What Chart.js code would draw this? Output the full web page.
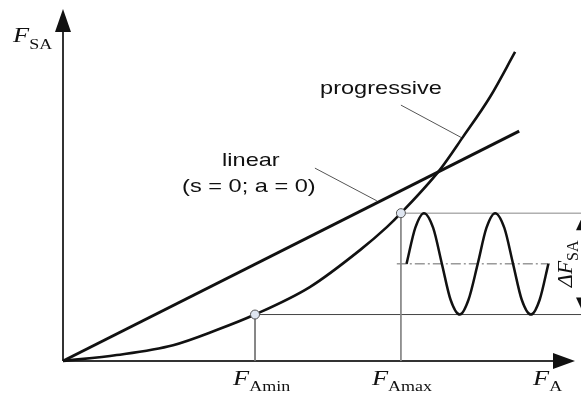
<!DOCTYPE html>
<html>
<head>
<meta charset="utf-8">
<script src="https://cdn.jsdelivr.net/npm/chart.js@4/dist/chart.umd.min.js"></script>
<style>
  html, body { margin: 0; padding: 0; background: #fff; }
  canvas { display: block; }
</style>
</head>
<body>
<canvas id="chart" width="581" height="394"></canvas>
<script>
// Spring characteristics: axial force F_A against spring force F_SA (arbitrary units)
const linearX = [0, 8.91];
const linearY = [0, 6.53];

const progressiveX = [0, 1.05, 2.15, 3.00, 3.75, 4.82, 5.80, 6.33, 6.60, 7.36, 7.81, 8.34, 8.83];
const progressiveY = [0, 0.17, 0.45, 0.88, 1.32, 2.10, 3.15, 3.81, 4.20, 5.43, 6.36, 7.50, 8.78];

// Alternating load between F_SA at F_Amin and at F_Amax (two cycles)
const loadX = [6.71, 6.88, 7.05, 7.23, 7.40, 7.57, 7.75, 7.92, 8.10, 8.27, 8.44, 8.62, 8.79, 8.96, 9.14, 9.31, 9.48];
const loadY = [2.76, 3.78, 4.20, 3.78, 2.76, 1.74, 1.32, 1.74, 2.76, 3.78, 4.20, 3.78, 2.76, 1.74, 1.32, 1.74, 2.76];

// Operating range
const fAmin = 3.75;
const fAmax = 6.60;
const fSAmin = 1.32;
const fSAmax = 4.20;
const fSAmean = 2.76;
const meanLineX = [6.52, 9.51];
const guideRightX = 10.12;

// Leader lines for the curve names
const linearLeaderX = [4.92, 6.13];
const linearLeaderY = [5.48, 4.55];
const progLeaderX = [6.60, 7.79];
const progLeaderY = [7.27, 6.34];

const pts = (xs, ys) => xs.map((x, i) => ({ x, y: ys[i] }));

// order: higher values are painted first (underneath)
function line(data, color, width, order, extra) {
  return Object.assign({
    type: 'line', data, borderColor: color, borderWidth: width, order,
    pointRadius: 0, fill: false, tension: 0, clip: false
  }, extra || {});
}

const SANS = '"Liberation Sans", Arial, sans-serif';
const SERIF = '"Liberation Serif", "Times New Roman", serif';

// Draws a run of text pieces (main + subscript) horizontally widened by sx
function drawRun(ctx, parts, x, y, sx, align) {
  ctx.save();
  let total = 0;
  parts.forEach(p => { ctx.font = p.font; p.w = ctx.measureText(p.t).width; total += p.w; });
  let start = x;
  if (align === 'center') start = x - total * sx / 2;
  ctx.translate(start, y);
  ctx.scale(sx, 1);
  ctx.fillStyle = '#111';
  ctx.textBaseline = 'alphabetic';
  ctx.textAlign = 'left';
  let cx = 0;
  parts.forEach(p => { ctx.font = p.font; ctx.fillText(p.t, cx, p.dy || 0); cx += p.w; });
  ctx.restore();
}

const diagramPlugin = {
  id: 'diagram',
  beforeDatasetsDraw(chart) {
    const { ctx, chartArea: a } = chart;
    ctx.save();
    ctx.strokeStyle = '#333';
    ctx.fillStyle = '#111';
    ctx.lineWidth = 2;
    // x axis with arrow
    ctx.beginPath();
    ctx.moveTo(a.left, a.bottom);
    ctx.lineTo(a.right - 20, a.bottom);
    ctx.stroke();
    ctx.beginPath();
    ctx.moveTo(a.right, a.bottom);
    ctx.lineTo(a.right - 22, a.bottom - 8);
    ctx.lineTo(a.right - 22, a.bottom + 8);
    ctx.closePath();
    ctx.fill();
    // y axis with arrow
    ctx.beginPath();
    ctx.moveTo(a.left, a.bottom);
    ctx.lineTo(a.left, a.top + 20);
    ctx.stroke();
    ctx.beginPath();
    ctx.moveTo(a.left, a.top);
    ctx.lineTo(a.left - 8, a.top + 23);
    ctx.lineTo(a.left + 8, a.top + 23);
    ctx.closePath();
    ctx.fill();
    ctx.restore();
  },
  afterDatasetsDraw(chart) {
    const { ctx, chartArea: a, scales: { x, y } } = chart;
    const sx = 1.2;
    const big = 'italic 22px ' + SERIF;
    const sub = '15px ' + SERIF;

    // axis titles
    drawRun(ctx, [{ t: 'F', font: big }, { t: 'SA', font: sub, dy: 7 }], a.left - 50, a.top + 33, sx);
    drawRun(ctx, [{ t: 'F', font: big }, { t: 'A', font: sub, dy: 6 }], a.right - 42, a.bottom + 24, sx);
    drawRun(ctx, [{ t: 'F', font: big }, { t: 'Amin', font: sub, dy: 6 }], x.getPixelForValue(fAmin) - 22, a.bottom + 24, sx);
    drawRun(ctx, [{ t: 'F', font: big }, { t: 'Amax', font: sub, dy: 6 }], x.getPixelForValue(fAmax) - 29, a.bottom + 24, sx);

    // curve names
    const lab = '19px ' + SANS;
    drawRun(ctx, [{ t: 'progressive', font: lab }], x.getPixelForValue(progLeaderX[0]) - 20, y.getPixelForValue(progLeaderY[0]) - 11, 1.24, 'center');
    drawRun(ctx, [{ t: 'linear', font: lab }], x.getPixelForValue(linearLeaderX[0]) - 64, y.getPixelForValue(linearLeaderY[0]) - 2, 1.24, 'center');
    drawRun(ctx, [{ t: '(s = 0; a = 0)', font: lab }], x.getPixelForValue(linearLeaderX[0]) - 66, y.getPixelForValue(linearLeaderY[0]) + 24, 1.24, 'center');

    // load amplitude dimension
    const yTop = y.getPixelForValue(fSAmax);
    const yBot = y.getPixelForValue(fSAmin);
    const xd = a.right + 9;
    ctx.save();
    ctx.fillStyle = '#111';
    ctx.beginPath();
    ctx.moveTo(xd, yTop);
    ctx.lineTo(xd - 8, yTop + 17);
    ctx.lineTo(xd + 8, yTop + 17);
    ctx.closePath();
    ctx.fill();
    ctx.beginPath();
    ctx.moveTo(xd, yBot);
    ctx.lineTo(xd - 8, yBot - 17);
    ctx.lineTo(xd + 8, yBot - 17);
    ctx.closePath();
    ctx.fill();
    ctx.restore();

    ctx.save();
    ctx.translate(a.right - 3, y.getPixelForValue(fSAmean));
    ctx.rotate(-Math.PI / 2);
    ctx.fillStyle = '#111';
    ctx.textBaseline = 'alphabetic';
    const parts = [{ t: '\u0394F', font: 'italic 22px ' + SERIF }, { t: 'SA', font: '16px ' + SERIF, dy: 6 }];
    let total = 0;
    parts.forEach(p => { ctx.font = p.font; p.w = ctx.measureText(p.t).width; total += p.w; });
    let cx = -total / 2;
    parts.forEach(p => { ctx.font = p.font; ctx.fillText(p.t, cx, p.dy || 0); cx += p.w; });
    ctx.restore();
  }
};

new Chart(document.getElementById('chart'), {
  type: 'line',
  data: {
    datasets: [
      line([{ x: fAmin, y: fSAmin }, { x: fAmin, y: 0 }], '#777', 1, 9),
      line([{ x: fAmax, y: fSAmax }, { x: fAmax, y: 0 }], '#888', 1, 9),
      line([{ x: fAmax, y: fSAmax }, { x: guideRightX, y: fSAmax }], '#888', 1, 9),
      line([{ x: fAmin, y: fSAmin }, { x: guideRightX, y: fSAmin }], '#444', 1, 9),
      line([{ x: meanLineX[0], y: fSAmean }, { x: meanLineX[1], y: fSAmean }], '#666', 1, 9, { borderDash: [10, 3, 2, 3] }),
      line(pts(linearLeaderX, linearLeaderY), '#555', 1, 9),
      line(pts(progLeaderX, progLeaderY), '#555', 1, 9),
      line(pts(loadX, loadY), '#111', 2.5, 5, { cubicInterpolationMode: 'monotone' }),
      line(pts(linearX, linearY), '#111', 3, 5),
      line(pts(progressiveX, progressiveY), '#111', 2.6, 5, { cubicInterpolationMode: 'monotone' }),
      {
        type: 'line',
        data: [{ x: fAmin, y: fSAmin }, { x: fAmax, y: fSAmax }],
        order: 0,
        showLine: false,
        pointRadius: 4.5,
        pointBackgroundColor: '#dfe6f1',
        pointBorderColor: '#555',
        pointBorderWidth: 1,
        clip: false
      }
    ]
  },
  options: {
    responsive: false,
    animation: false,
    events: [],
    layout: { padding: { left: 63, right: 6, top: 9, bottom: 33 } },
    scales: {
      x: { type: 'linear', min: 0, max: 10, display: false },
      y: { type: 'linear', min: 0, max: 10, display: false }
    },
    plugins: { legend: { display: false }, tooltip: { enabled: false } }
  },
  plugins: [diagramPlugin]
});
</script>
</body>
</html>
